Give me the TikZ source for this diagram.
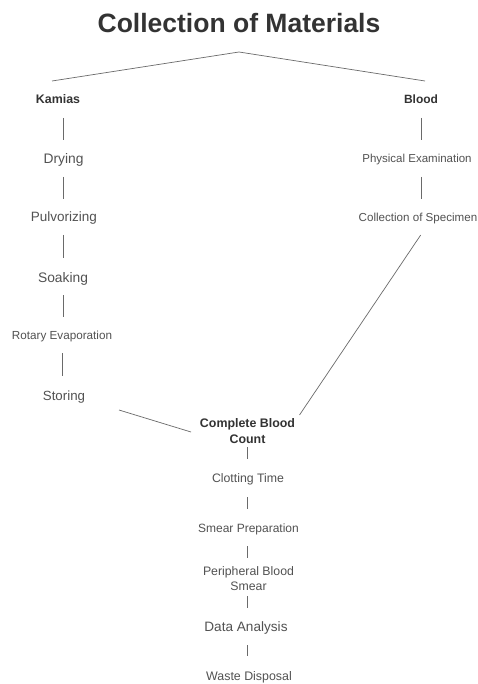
\documentclass[tikz,border=0pt]{standalone}
\usepackage{fontspec}
\setmainfont{Liberation Sans}
\definecolor{txt}{HTML}{525252}
\definecolor{dark}{HTML}{333333}
\definecolor{ln}{HTML}{6a6a6a}
\newcommand{\fsz}[1]{\fontsize{#1}{#1}\selectfont}
\begin{document}
\begin{tikzpicture}[x=1pt,y=-1pt,
  lbl/.style={inner sep=0pt, outer sep=0pt, anchor=base, text=txt},
  bld/.style={lbl, text=dark},
  conn/.style={draw=ln, line width=0.7pt}]
\fill[white] (0,0) rectangle (478,684);
\useasboundingbox (0,0) rectangle (478,684);

% title
\node[bld, font=\bfseries\fsz{26.5}] (ttl) at (239,33) {Collection of Materials};
\coordinate (apex) at (239,52);
\coordinate (lend) at (52,81);
\coordinate (rend) at (425,81);
\draw[conn] (lend) -- (apex) -- (rend);

% left column
\node[bld, font=\bfseries\fsz{12.4}] (kam) at (58,103.5) {Kamias};
\node[lbl, font=\fsz{13.8}] (dry) at (63.5,164) {Drying};
\node[lbl, font=\fsz{13.5}] (pul) at (64,222) {Pulvorizing};
\node[lbl, font=\fsz{13.8}] (soa) at (63,282) {Soaking};
\node[lbl, font=\fsz{11.7}] (rot) at (62,339.5) {Rotary Evaporation};
\node[lbl, font=\fsz{13.3}] (sto) at (64,400) {Storing};

% right column
\node[bld, font=\bfseries\fsz{12}] (blo) at (421,103.5) {Blood};
\node[lbl, font=\fsz{11.5}] (phy) at (417,162.5) {Physical Examination};
\node[lbl, font=\fsz{11.6}] (col) at (418,221.7) {Collection of Specimen};

% bottom column
\node[bld, font=\bfseries\fontsize{12.4}{16.5}\selectfont, align=center, anchor=north] (cbc) at (247.5,418.5) {Complete Blood\\Count};
\node[lbl, font=\fsz{12.3}] (clo) at (248,482) {Clotting Time};
\node[lbl, font=\fsz{12}] (sme) at (248.5,532) {Smear Preparation};
\node[lbl, font=\fontsize{12.3}{15}\selectfont, align=center, anchor=north] (per) at (248.5,566.2) {Peripheral Blood\\Smear};
\node[lbl, font=\fsz{13.6}] (dat) at (246,631) {Data Analysis};
\node[lbl, font=\fsz{12.4}] (was) at (249,680) {Waste Disposal};

% vertical connectors, left
\draw[conn, shorten <=14.5pt, shorten >=24pt] (dry |- kam.base) -- (dry.base);
\draw[conn, shorten <=13pt, shorten >=23pt] (dry.base) -- (dry |- pul.base);
\draw[conn, shorten <=13pt, shorten >=24pt] (soa |- pul.base) -- (soa.base);
\draw[conn, shorten <=13pt, shorten >=22.5pt] (soa.base) -- (soa |- rot.base);
\draw[conn, shorten <=13.5pt, shorten >=24pt] (rot.base) -- (rot |- sto.base);

% vertical connectors, right
\draw[conn, shorten <=14.5pt, shorten >=22.5pt] (blo.base) -- (blo |- phy.base);
\draw[conn, shorten <=14.5pt, shorten >=22.7pt] (blo |- phy.base) -- (blo |- col.base);

% vertical connectors, bottom
\draw[conn, shorten <=3pt, shorten >=23pt] (cbc.south) -- (cbc |- clo.base);
\draw[conn, shorten <=15pt, shorten >=23pt] (cbc |- clo.base) -- (cbc |- sme.base);
\draw[conn, shorten <=14pt, shorten >=8.2pt] (cbc |- sme.base) -- (cbc |- per.north);
\draw[conn, shorten <=6pt, shorten >=23pt] (cbc |- per.south) -- (cbc |- dat.base);
\draw[conn, shorten <=14pt, shorten >=24pt] (cbc |- dat.base) -- (cbc |- was.base);

% diagonal connectors into Complete Blood Count
\coordinate (stoend) at (119,410);
\coordinate (cbcl) at (191,432);
\coordinate (colend) at (420.7,235);
\coordinate (cbcr) at (299.5,415);
\draw[conn] (stoend) -- (cbcl);
\draw[conn] (colend) -- (cbcr);
\end{tikzpicture}
\end{document}
